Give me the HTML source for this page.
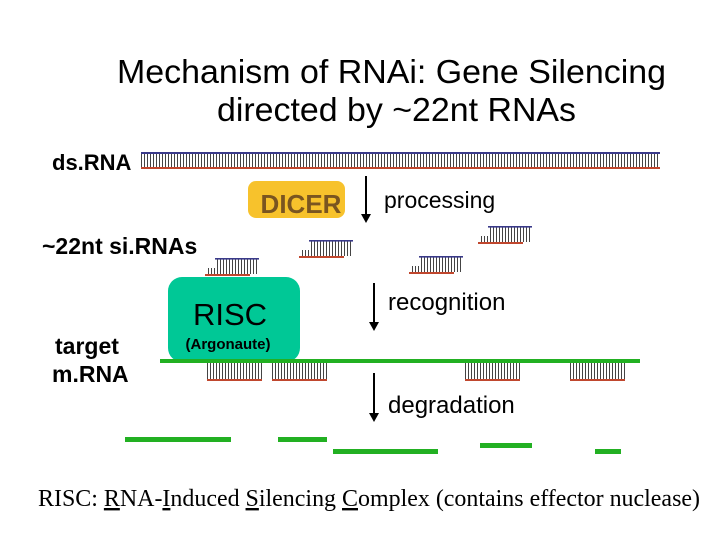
<!DOCTYPE html>
<html><head><meta charset="utf-8"><style>
body{margin:0;background:#fff;}
svg{display:block;font-family:"Liberation Sans",Arial,sans-serif;}
</style></head><body>
<svg width="720" height="540" viewBox="0 0 720 540" xmlns="http://www.w3.org/2000/svg">
<defs>
<pattern id="tk" x="0" y="0" width="3" height="10" patternUnits="userSpaceOnUse">
<rect x="0" y="0" width="1" height="10" fill="#444"/>
</pattern>
<g id="si">
<rect x="10" y="1" width="44" height="15" fill="url(#tk)"/>
<rect x="2" y="10" width="8" height="6" fill="url(#tk)"/>
<rect x="10" y="0" width="44" height="1.6" fill="#3a3a8a"/>
<rect x="0" y="16" width="45" height="2" fill="#c0472e"/>
</g>
<g id="bd">
<rect x="0" y="0" width="55" height="16" fill="url(#tk)"/>
<rect x="0" y="16" width="55" height="2" fill="#c0472e"/>
</g>
</defs>
<text x="117" y="83" font-size="33" textLength="549" lengthAdjust="spacingAndGlyphs">Mechanism of RNAi: Gene Silencing</text>
<text x="217" y="121" font-size="33" textLength="359" lengthAdjust="spacingAndGlyphs">directed by ~22nt RNAs</text>

<text x="52" y="170" font-size="22" font-weight="bold">ds.RNA</text>
<rect x="141" y="154" width="519" height="14" fill="url(#tk)"/>
<rect x="141" y="152" width="519" height="2" fill="#3a3a8a"/>
<rect x="141" y="167" width="519" height="2" fill="#c0472e"/>

<rect x="248" y="181" width="97" height="37" rx="8" fill="#f7c22c"/>
<text x="301" y="213" font-size="26" font-weight="bold" fill="#7a5520" text-anchor="middle">DICER</text>
<line x1="366" y1="176" x2="366" y2="215" stroke="#000" stroke-width="2"/>
<polygon points="361,214 371,214 366,223" fill="#000"/>
<text x="384" y="208" font-size="23">processing</text>

<text x="42" y="254" font-size="23" font-weight="bold">~22nt si.RNAs</text>
<use href="#si" x="205" y="258"/>
<use href="#si" x="299" y="240"/>
<use href="#si" x="409" y="256"/>
<use href="#si" x="478" y="226"/>

<rect x="168" y="277" width="132" height="85" rx="14" fill="#00c896"/>
<text x="230" y="325" font-size="31" text-anchor="middle">RISC</text>
<text x="228" y="349" font-size="15" font-weight="bold" text-anchor="middle">(Argonaute)</text>
<line x1="374" y1="283" x2="374" y2="323" stroke="#000" stroke-width="2"/>
<polygon points="369,322 379,322 374,331" fill="#000"/>
<text x="388" y="310" font-size="24">recognition</text>

<text x="55" y="354" font-size="23" font-weight="bold">target</text>
<text x="52" y="382" font-size="23" font-weight="bold">m.RNA</text>
<rect x="160" y="359" width="480" height="4" fill="#22b022"/>
<use href="#bd" x="207" y="363"/>
<use href="#bd" x="272" y="363"/>
<use href="#bd" x="465" y="363"/>
<use href="#bd" x="570" y="363"/>

<line x1="374" y1="373" x2="374" y2="414" stroke="#000" stroke-width="2"/>
<polygon points="369,413 379,413 374,422" fill="#000"/>
<text x="388" y="413" font-size="24">degradation</text>

<rect x="125" y="437" width="106" height="5" fill="#22b022"/>
<rect x="278" y="437" width="49" height="5" fill="#22b022"/>
<rect x="333" y="449" width="105" height="5" fill="#22b022"/>
<rect x="480" y="443" width="52" height="5" fill="#22b022"/>
<rect x="595" y="449" width="26" height="5" fill="#22b022"/>

<text x="38" y="506" font-size="24" font-family="Liberation Serif,serif" textLength="662" lengthAdjust="spacingAndGlyphs">RISC: <tspan text-decoration="underline">R</tspan>NA-<tspan text-decoration="underline">I</tspan>nduced <tspan text-decoration="underline">S</tspan>ilencing <tspan text-decoration="underline">C</tspan>omplex (contains effector nuclease)</text>
</svg>
</body></html>
